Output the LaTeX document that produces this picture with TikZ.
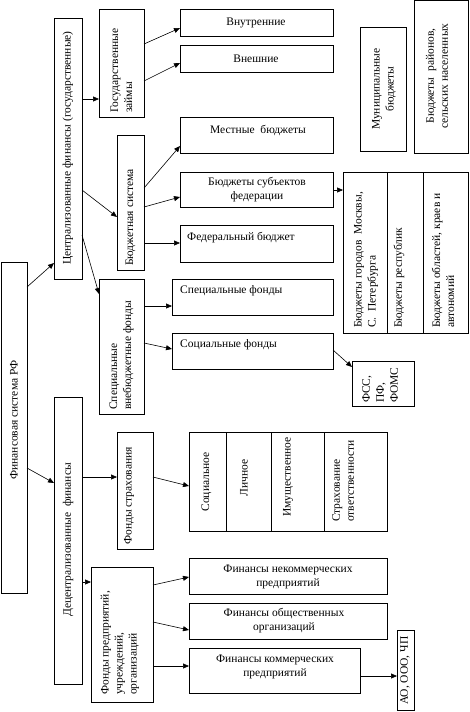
\documentclass[tikz,border=0pt]{standalone}
\usepackage{fontspec}
\setmainfont{Liberation Serif}
\usetikzlibrary{arrows.meta,calc}
\newcommand\bx[5]{\node[box, minimum width={(#4)-(#2)}, minimum height={(#5)-(#3)}] (#1) at ({((#2)+(#4))/2},{((#3)+(#5))/2}) {};}
\tikzset{
  box/.style={draw, line width=0.8pt, inner sep=0pt, outer sep=0pt},
  arr/.style={-{Triangle[length=6pt,width=5pt]}, line width=0.6pt},
  txt/.style={font=\fontsize{11.5}{14}\selectfont, inner sep=0pt, align=center},
  vtxt/.style={txt, rotate=90},
  vltxt/.style={txt, rotate=90, align=left, anchor=west},
}
\begin{document}
\begin{tikzpicture}[x=1pt,y=-1pt]
\useasboundingbox (0,0) rectangle (469,712);
% boxes
\bx{fin}{1}{262}{27}{593}
\bx{cen}{54}{18}{82}{279}
\bx{dec}{54}{397}{82}{684}
\bx{gz}{99}{9}{144}{117}
\bx{vn}{180}{9}{333}{36}
\bx{ve}{180}{45}{333}{72}
\bx{bs}{117}{135}{144}{270}
\bx{mb}{180}{117}{333}{153}
\bx{sf}{180}{172}{333}{207}
\bx{fb}{180}{225}{333}{262}
\bx{vf}{99}{279}{144}{414}
\bx{spf}{172}{279}{333}{315}
\bx{sof}{172}{333}{333}{369}
\bx{mun}{360}{27}{406}{151}
\bx{ray}{414}{0.5}{468}{153}
\bx{sj1}{343}{172}{387}{333}
\bx{sj2}{387}{172}{423}{333}
\bx{sj3}{423}{172}{468}{333}
\bx{fss}{352}{361}{414}{406}
\bx{fs}{117}{432}{153}{549}
\bx{in1}{189}{432}{226}{531}
\bx{in2}{226}{432}{271}{531}
\bx{in3}{271}{432}{324}{531}
\bx{in4}{324}{432}{387}{531}
\bx{fp}{91}{567}{153}{702}
\bx{nk}{189}{558}{387}{594}
\bx{ob}{189}{603}{387}{639}
\bx{km}{189}{648}{360}{693}
\bx{ao}{397}{630}{414}{710}
% texts
\node[txt] (t-vn) at (256,22.5) {Внутренние};
\node[txt] (t-ve) at (256,58.5) {Внешние};
\node[txt] (t-mb) at (258,130) {Местные\ \ бюджеты};
\node[txt] (t-sf) at (257,190) {Бюджеты субъектов\\федерации};
\node[txt,anchor=west] (t-fb) at (187,237.5) {Федеральный бюджет};
\node[txt,anchor=west] (t-spf) at (180,291) {Специальные фонды};
\node[txt,anchor=west] (t-sof) at (180,345) {Социальные фонды};
\node[txt] (t-nk) at (288,577) {Финансы некоммерческих\\предприятий};
\node[txt] (t-ob) at (284,621) {Финансы общественных\\организаций};
\node[txt] (t-km) at (275,667) {Финансы коммерческих\\предприятий};
\node[vtxt] (t-fin) at (14,420) {Финансовая система РФ};
\node[vtxt] (t-cen) at (68,148) {Централизованные финансы (государственные)};
\node[vtxt] (t-dec) at (68,540) {Децентрализованные\ \ финансы};
\node[vltxt] (t-gz) at (121.5,113) {Государственные\\займы};
\node[vltxt] (t-bs) at (130.5,266) {Бюджетная система};
\node[vltxt] (t-vf) at (121.5,410) {Специальные\\внебюджетные фонды};
\node[vtxt] (t-mun) at (384,89) {Муниципальные\\бюджеты};
\node[vtxt] (t-ray) at (437,76) {Бюджеты\ \ районов,\\сельских населенных};
\node[vltxt] (t-sj1) at (366,328) {Бюджеты городов\ \ Москвы,\\С.\ \ Петербурга};
\node[vltxt] (t-sj2) at (399,328) {Бюджеты республик};
\node[vltxt] (t-sj3) at (443,328) {Бюджеты областей, краев и\\автономий};
\node[vltxt] (t-fss) at (380,403) {ФСС,\\ПФ,\\ФОМС};
\node[vltxt] (t-fs) at (129,545) {Фонды страхования};
\node[vtxt] (t-in1) at (206.5,482) {Социальное};
\node[vtxt] (t-in2) at (244,478) {Личное};
\node[vtxt] (t-in3) at (288,477) {Имущественное};
\node[vltxt] (t-in4) at (343,522) {Страхование\\ответственности};
\node[vltxt] (t-fp) at (120,695) {Фонды предприятий,\\учреждений,\\организаций};
\node[vltxt] (t-ao) at (405,705) {АО, ООО, ЧП};
% connectors
\draw[arr] ($(fin.north east)+(0,25)$) -- ($(cen.north west)+(0,245)$);
\draw[arr] ($(fin.north east)+(0,206)$) -- ($(dec.north west)+(0,86)$);
\draw[arr] ($(cen.north east)+(0,81)$) -- ($(gz.north west)+(0,90)$);
\draw[arr] ($(cen.north east)+(0,172)$) -- ($(bs.north west)+(0,82)$);
\draw[arr] ($(cen.north east)+(0,217)$) -- ($(vf.north west)+(0,15)$);
\draw[arr] ($(gz.north east)+(0,35)$) -- ($(vn.north west)+(0,19)$);
\draw[arr] ($(gz.north east)+(0,72)$) -- ($(ve.north west)+(0,18)$);
\draw[arr] ($(bs.north east)+(0,53)$) -- ($(mb.north west)+(0,29)$);
\draw[arr] ($(bs.north east)+(0,72)$) -- ($(sf.north west)+(0,25)$);
\draw[arr] ($(bs.north east)+(0,108)$) -- ($(fb.north west)+(0,18)$);
\draw[arr] ($(sf.north east)+(0,18)$) -- ($(sj1.north west)+(0,18)$);
\draw[arr] ($(vf.north east)+(0,27)$) -- ($(spf.north west)+(0,27)$);
\draw[arr] ($(vf.north east)+(0,64)$) -- ($(sof.north west)+(0,16)$);
\draw[arr] ($(sof.north east)+(0,17)$) -- ($(fss.north west)+(0,6)$);
\draw[arr] ($(dec.north east)+(0,80)$) -- ($(fs.north west)+(0,45)$);
\draw[arr] ($(fs.north east)+(0,45)$) -- ($(in1.north west)+(0,54)$);
\draw[arr] ($(dec.north east)+(0,185)$) -- ($(fp.north west)+(0,15)$);
\draw[arr] ($(fp.north east)+(0,18)$) -- ($(nk.north west)+(0,19)$);
\draw[arr] ($(fp.north east)+(0,55)$) -- ($(ob.north west)+(0,27)$);
\draw[arr] ($(fp.north east)+(0,99)$) -- ($(km.north west)+(0,18)$);
\draw[arr] ($(km.north east)+(0,28)$) -- ($(ao.north west)+(0,46)$);
\end{tikzpicture}
\end{document}
